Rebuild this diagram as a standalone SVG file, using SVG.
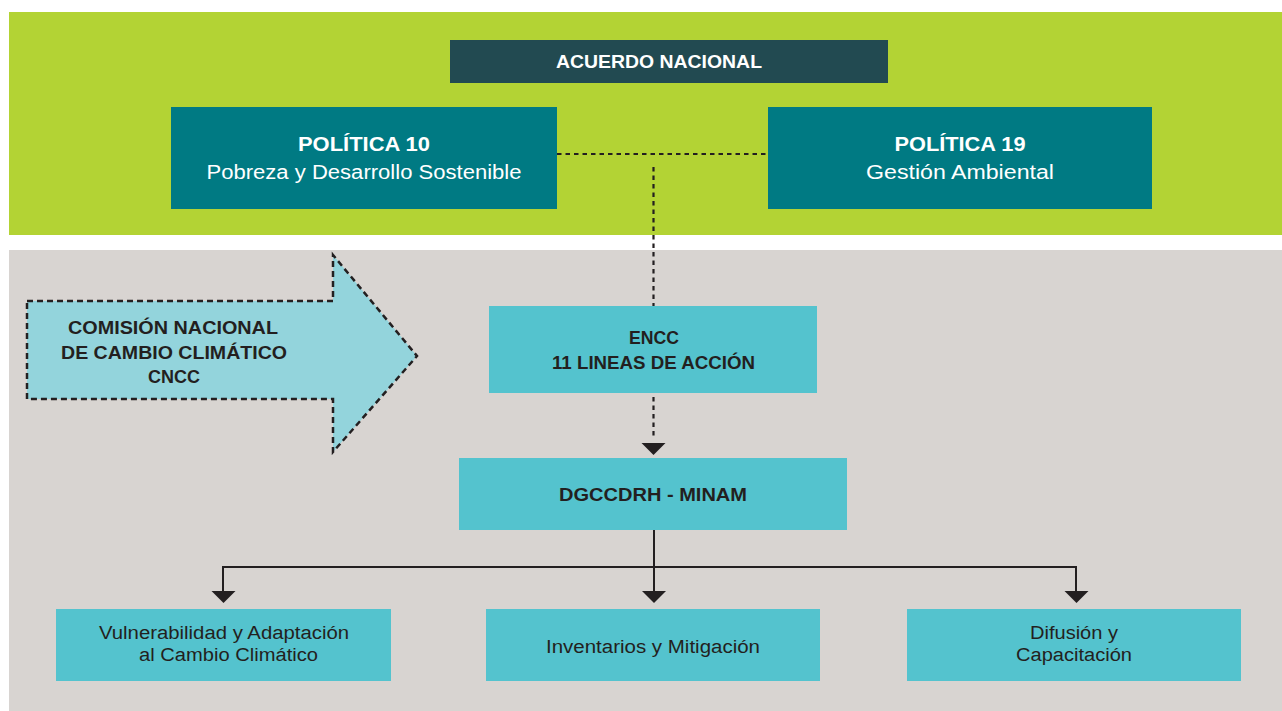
<svg xmlns="http://www.w3.org/2000/svg" width="1282" height="711" viewBox="0 0 1282 711">
<style>
.b{font-family:"Liberation Sans",Arial,sans-serif;font-weight:bold;text-anchor:middle}
.r{font-family:"Liberation Sans",Arial,sans-serif;text-anchor:middle}
.w{fill:#ffffff}
.k{fill:#231f20}
.cy{fill:#54c3ce}
.dash{fill:none;stroke:#231f20;stroke-width:2.2;stroke-dasharray:4.5 4}
.solid{fill:none;stroke:#231f20;stroke-width:2}
</style>
<defs>
<marker id="tri" viewBox="0 0 24 12" refX="12" refY="12" markerWidth="24" markerHeight="12" markerUnits="userSpaceOnUse" orient="auto-start-reverse">
<path d="M0,0 L24,0 L12,12 Z" fill="#231f20"/>
</marker>
</defs>
<rect width="1282" height="711" fill="#ffffff"/>
<rect x="9" y="12" width="1273" height="223" fill="#b3d334"/>
<rect x="9" y="250" width="1273" height="461" fill="#d8d4d1"/>

<g id="connectors">
<path class="dash" d="M557,154 H768"/>
<path class="dash" d="M653.5,167 V306"/>
<path class="dash" d="M653.5,397 V437"/>
<path d="M641.5,443 H665.5 L653.5,455 Z" fill="#231f20"/>
<path class="solid" d="M654,530 V591"/>
<path class="solid" d="M223,591 V567 H1076 V591"/>
<path d="M211.5,591 H235.5 L223.5,603 Z" fill="#231f20"/>
<path d="M642,591 H666 L654,603 Z" fill="#231f20"/>
<path d="M1064.5,591 H1088.5 L1076.5,603 Z" fill="#231f20"/>
</g>

<g id="acuerdo">
<rect x="450" y="40" width="438" height="43" fill="#224a51"/>
<text class="b w" x="659" y="68" font-size="18" textLength="206" lengthAdjust="spacingAndGlyphs">ACUERDO NACIONAL</text>
</g>

<g id="politica10">
<rect x="171" y="107" width="386" height="102" fill="#007a83"/>
<text class="b w" x="364" y="151" font-size="21" textLength="132" lengthAdjust="spacingAndGlyphs">POLÍTICA 10</text>
<text class="r w" x="364" y="179" font-size="20" textLength="315" lengthAdjust="spacingAndGlyphs">Pobreza y Desarrollo Sostenible</text>
</g>

<g id="politica19">
<rect x="768" y="107" width="384" height="102" fill="#007a83"/>
<text class="b w" x="960" y="151" font-size="21" textLength="131" lengthAdjust="spacingAndGlyphs">POLÍTICA 19</text>
<text class="r w" x="960" y="179" font-size="20" textLength="188" lengthAdjust="spacingAndGlyphs">Gestión Ambiental</text>
</g>

<g id="cncc">
<path d="M27,301 H333 V255 L417,356 L333,452 V399 H27 Z" fill="#93d4dc" stroke="#231f20" stroke-width="2.5" stroke-dasharray="6 4"/>
<text class="b k" x="173" y="334" font-size="18" textLength="210" lengthAdjust="spacingAndGlyphs">COMISIÓN NACIONAL</text>
<text class="b k" x="174" y="359" font-size="18" textLength="226" lengthAdjust="spacingAndGlyphs">DE CAMBIO CLIMÁTICO</text>
<text class="b k" x="174" y="383" font-size="18" textLength="52" lengthAdjust="spacingAndGlyphs">CNCC</text>
</g>

<g id="encc">
<rect class="cy" x="489" y="306" width="328" height="87"/>
<text class="b k" x="654" y="344" font-size="18" textLength="50" lengthAdjust="spacingAndGlyphs">ENCC</text>
<text class="b k" x="653.5" y="369" font-size="18" textLength="203" lengthAdjust="spacingAndGlyphs">11 LINEAS DE ACCIÓN</text>
</g>

<g id="dgccdrh">
<rect class="cy" x="459" y="458" width="388" height="72"/>
<text class="b k" x="653" y="501" font-size="18" textLength="188" lengthAdjust="spacingAndGlyphs">DGCCDRH - MINAM</text>
</g>

<g id="vulnerabilidad">
<rect class="cy" x="56" y="609" width="335" height="72"/>
<text class="r k" x="224" y="639" font-size="18" textLength="250" lengthAdjust="spacingAndGlyphs">Vulnerabilidad y Adaptación</text>
<text class="r k" x="228.5" y="661" font-size="18" textLength="179" lengthAdjust="spacingAndGlyphs">al Cambio Climático</text>
</g>

<g id="inventarios">
<rect class="cy" x="486" y="609" width="334" height="72"/>
<text class="r k" x="653" y="653" font-size="18" textLength="214" lengthAdjust="spacingAndGlyphs">Inventarios y Mitigación</text>
</g>

<g id="difusion">
<rect class="cy" x="907" y="609" width="334" height="72"/>
<text class="r k" x="1074" y="639" font-size="18" textLength="88" lengthAdjust="spacingAndGlyphs">Difusión y</text>
<text class="r k" x="1074" y="661" font-size="18" textLength="116" lengthAdjust="spacingAndGlyphs">Capacitación</text>
</g>
</svg>
